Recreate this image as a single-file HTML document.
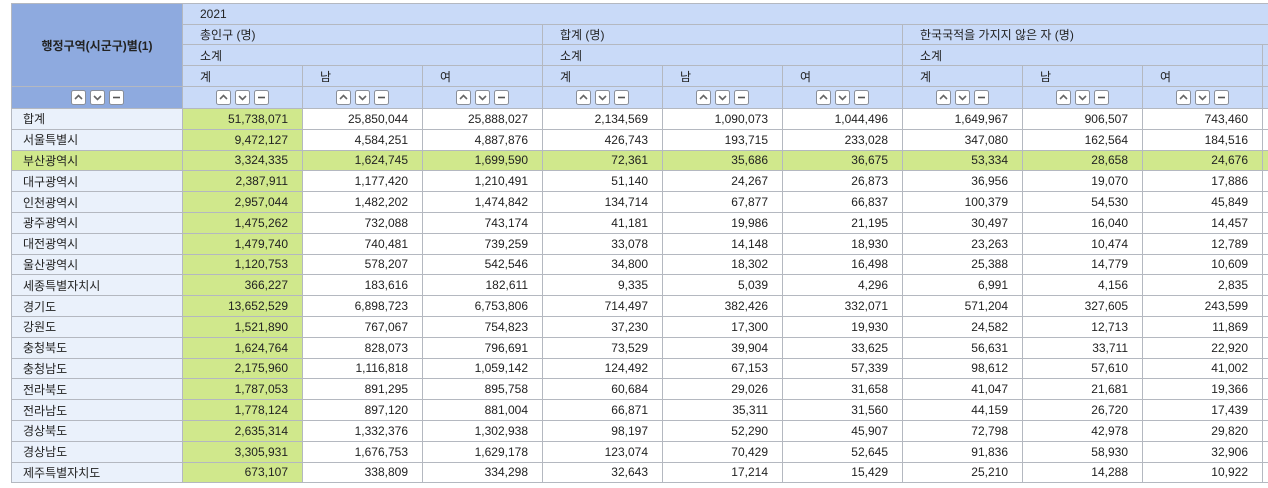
<!DOCTYPE html>
<html><head><meta charset="utf-8"><style>
body{margin:0;width:1268px;height:488px;background:#fff;overflow:hidden;font-family:"Liberation Sans","Noto Sans CJK KR",sans-serif;font-size:12px;color:#222}
#w{position:absolute;left:11px;top:3px;width:1257px;height:485px;overflow:hidden}
table{border-collapse:collapse;table-layout:fixed;width:1371px}
td{border:1px solid #b4b8c0;padding:0;white-space:nowrap;overflow:hidden}
.h td{background:#c9daf8;padding-left:17px}
td.L{background:#8eaadf !important;text-align:center;font-weight:bold;padding-left:0 !important}
.b td{background:#c9daf8;text-align:center;padding:0}
svg.btn{margin:0 2px;vertical-align:middle;position:relative;top:0px}
.d td{height:19.8px;text-align:right;padding-right:14px;background:#fff}
.d td:first-child{text-align:left;padding-left:11px;padding-right:0;background:#eaf1fb}
.d td:nth-child(2){background:#d0e88c}
.d.g td{background:#d0e88c}
</style></head><body>
<svg width="0" height="0" style="position:absolute">
<defs>
<g id="u"><rect x="0.5" y="0.5" width="14" height="14" rx="2" fill="#fff" stroke="#8a8f99"/><path d="M4 9 L7.5 5.5 L11 9" fill="none" stroke="#666" stroke-width="1.6"/></g>
<g id="dn"><rect x="0.5" y="0.5" width="14" height="14" rx="2" fill="#fff" stroke="#8a8f99"/><path d="M4 6 L7.5 9.5 L11 6" fill="none" stroke="#666" stroke-width="1.6"/></g>
<g id="m"><rect x="0.5" y="0.5" width="14" height="14" rx="2" fill="#fff" stroke="#8a8f99"/><path d="M4 7.5 H11" stroke="#555" stroke-width="1.6"/></g>
</defs></svg>
<div id="w">
<table>
<colgroup><col style="width:171px"><col style="width:120px"><col style="width:120px"><col style="width:120px"><col style="width:120px"><col style="width:120px"><col style="width:120px"><col style="width:120px"><col style="width:120px"><col style="width:120px"><col style="width:120px"></colgroup>
<tr class="h" style="height:21px"><td class="L" rowspan="4">행정구역(시군구)별(1)</td><td colspan="10">2021</td></tr>
<tr class="h" style="height:20px"><td colspan="3">총인구 (명)</td><td colspan="3">합계 (명)</td><td colspan="4">한국국적을 가지지 않은 자 (명)</td></tr>
<tr class="h" style="height:21px"><td colspan="3">소계</td><td colspan="3">소계</td><td colspan="3">소계</td><td></td></tr>
<tr class="h" style="height:21px"><td>계</td><td>남</td><td>여</td><td>계</td><td>남</td><td>여</td><td>계</td><td>남</td><td>여</td><td></td></tr>
<tr class="b" style="height:22px">
<td class="L"><svg class="btn" width="15" height="15"><use href="#u"/></svg><svg class="btn" width="15" height="15"><use href="#dn"/></svg><svg class="btn" width="15" height="15"><use href="#m"/></svg></td>
<td><svg class="btn" width="15" height="15"><use href="#u"/></svg><svg class="btn" width="15" height="15"><use href="#dn"/></svg><svg class="btn" width="15" height="15"><use href="#m"/></svg></td>
<td><svg class="btn" width="15" height="15"><use href="#u"/></svg><svg class="btn" width="15" height="15"><use href="#dn"/></svg><svg class="btn" width="15" height="15"><use href="#m"/></svg></td>
<td><svg class="btn" width="15" height="15"><use href="#u"/></svg><svg class="btn" width="15" height="15"><use href="#dn"/></svg><svg class="btn" width="15" height="15"><use href="#m"/></svg></td>
<td><svg class="btn" width="15" height="15"><use href="#u"/></svg><svg class="btn" width="15" height="15"><use href="#dn"/></svg><svg class="btn" width="15" height="15"><use href="#m"/></svg></td>
<td><svg class="btn" width="15" height="15"><use href="#u"/></svg><svg class="btn" width="15" height="15"><use href="#dn"/></svg><svg class="btn" width="15" height="15"><use href="#m"/></svg></td>
<td><svg class="btn" width="15" height="15"><use href="#u"/></svg><svg class="btn" width="15" height="15"><use href="#dn"/></svg><svg class="btn" width="15" height="15"><use href="#m"/></svg></td>
<td><svg class="btn" width="15" height="15"><use href="#u"/></svg><svg class="btn" width="15" height="15"><use href="#dn"/></svg><svg class="btn" width="15" height="15"><use href="#m"/></svg></td>
<td><svg class="btn" width="15" height="15"><use href="#u"/></svg><svg class="btn" width="15" height="15"><use href="#dn"/></svg><svg class="btn" width="15" height="15"><use href="#m"/></svg></td>
<td><svg class="btn" width="15" height="15"><use href="#u"/></svg><svg class="btn" width="15" height="15"><use href="#dn"/></svg><svg class="btn" width="15" height="15"><use href="#m"/></svg></td>
<td></td></tr>
<tr class="d"><td>합계</td><td>51,738,071</td><td>25,850,044</td><td>25,888,027</td><td>2,134,569</td><td>1,090,073</td><td>1,044,496</td><td>1,649,967</td><td>906,507</td><td>743,460</td><td></td></tr>
<tr class="d"><td>서울특별시</td><td>9,472,127</td><td>4,584,251</td><td>4,887,876</td><td>426,743</td><td>193,715</td><td>233,028</td><td>347,080</td><td>162,564</td><td>184,516</td><td></td></tr>
<tr class="d g"><td>부산광역시</td><td>3,324,335</td><td>1,624,745</td><td>1,699,590</td><td>72,361</td><td>35,686</td><td>36,675</td><td>53,334</td><td>28,658</td><td>24,676</td><td></td></tr>
<tr class="d"><td>대구광역시</td><td>2,387,911</td><td>1,177,420</td><td>1,210,491</td><td>51,140</td><td>24,267</td><td>26,873</td><td>36,956</td><td>19,070</td><td>17,886</td><td></td></tr>
<tr class="d"><td>인천광역시</td><td>2,957,044</td><td>1,482,202</td><td>1,474,842</td><td>134,714</td><td>67,877</td><td>66,837</td><td>100,379</td><td>54,530</td><td>45,849</td><td></td></tr>
<tr class="d"><td>광주광역시</td><td>1,475,262</td><td>732,088</td><td>743,174</td><td>41,181</td><td>19,986</td><td>21,195</td><td>30,497</td><td>16,040</td><td>14,457</td><td></td></tr>
<tr class="d"><td>대전광역시</td><td>1,479,740</td><td>740,481</td><td>739,259</td><td>33,078</td><td>14,148</td><td>18,930</td><td>23,263</td><td>10,474</td><td>12,789</td><td></td></tr>
<tr class="d"><td>울산광역시</td><td>1,120,753</td><td>578,207</td><td>542,546</td><td>34,800</td><td>18,302</td><td>16,498</td><td>25,388</td><td>14,779</td><td>10,609</td><td></td></tr>
<tr class="d"><td>세종특별자치시</td><td>366,227</td><td>183,616</td><td>182,611</td><td>9,335</td><td>5,039</td><td>4,296</td><td>6,991</td><td>4,156</td><td>2,835</td><td></td></tr>
<tr class="d"><td>경기도</td><td>13,652,529</td><td>6,898,723</td><td>6,753,806</td><td>714,497</td><td>382,426</td><td>332,071</td><td>571,204</td><td>327,605</td><td>243,599</td><td></td></tr>
<tr class="d"><td>강원도</td><td>1,521,890</td><td>767,067</td><td>754,823</td><td>37,230</td><td>17,300</td><td>19,930</td><td>24,582</td><td>12,713</td><td>11,869</td><td></td></tr>
<tr class="d"><td>충청북도</td><td>1,624,764</td><td>828,073</td><td>796,691</td><td>73,529</td><td>39,904</td><td>33,625</td><td>56,631</td><td>33,711</td><td>22,920</td><td></td></tr>
<tr class="d"><td>충청남도</td><td>2,175,960</td><td>1,116,818</td><td>1,059,142</td><td>124,492</td><td>67,153</td><td>57,339</td><td>98,612</td><td>57,610</td><td>41,002</td><td></td></tr>
<tr class="d"><td>전라북도</td><td>1,787,053</td><td>891,295</td><td>895,758</td><td>60,684</td><td>29,026</td><td>31,658</td><td>41,047</td><td>21,681</td><td>19,366</td><td></td></tr>
<tr class="d"><td>전라남도</td><td>1,778,124</td><td>897,120</td><td>881,004</td><td>66,871</td><td>35,311</td><td>31,560</td><td>44,159</td><td>26,720</td><td>17,439</td><td></td></tr>
<tr class="d"><td>경상북도</td><td>2,635,314</td><td>1,332,376</td><td>1,302,938</td><td>98,197</td><td>52,290</td><td>45,907</td><td>72,798</td><td>42,978</td><td>29,820</td><td></td></tr>
<tr class="d"><td>경상남도</td><td>3,305,931</td><td>1,676,753</td><td>1,629,178</td><td>123,074</td><td>70,429</td><td>52,645</td><td>91,836</td><td>58,930</td><td>32,906</td><td></td></tr>
<tr class="d"><td>제주특별자치도</td><td>673,107</td><td>338,809</td><td>334,298</td><td>32,643</td><td>17,214</td><td>15,429</td><td>25,210</td><td>14,288</td><td>10,922</td><td></td></tr>
</table>
</div>
</body></html>
